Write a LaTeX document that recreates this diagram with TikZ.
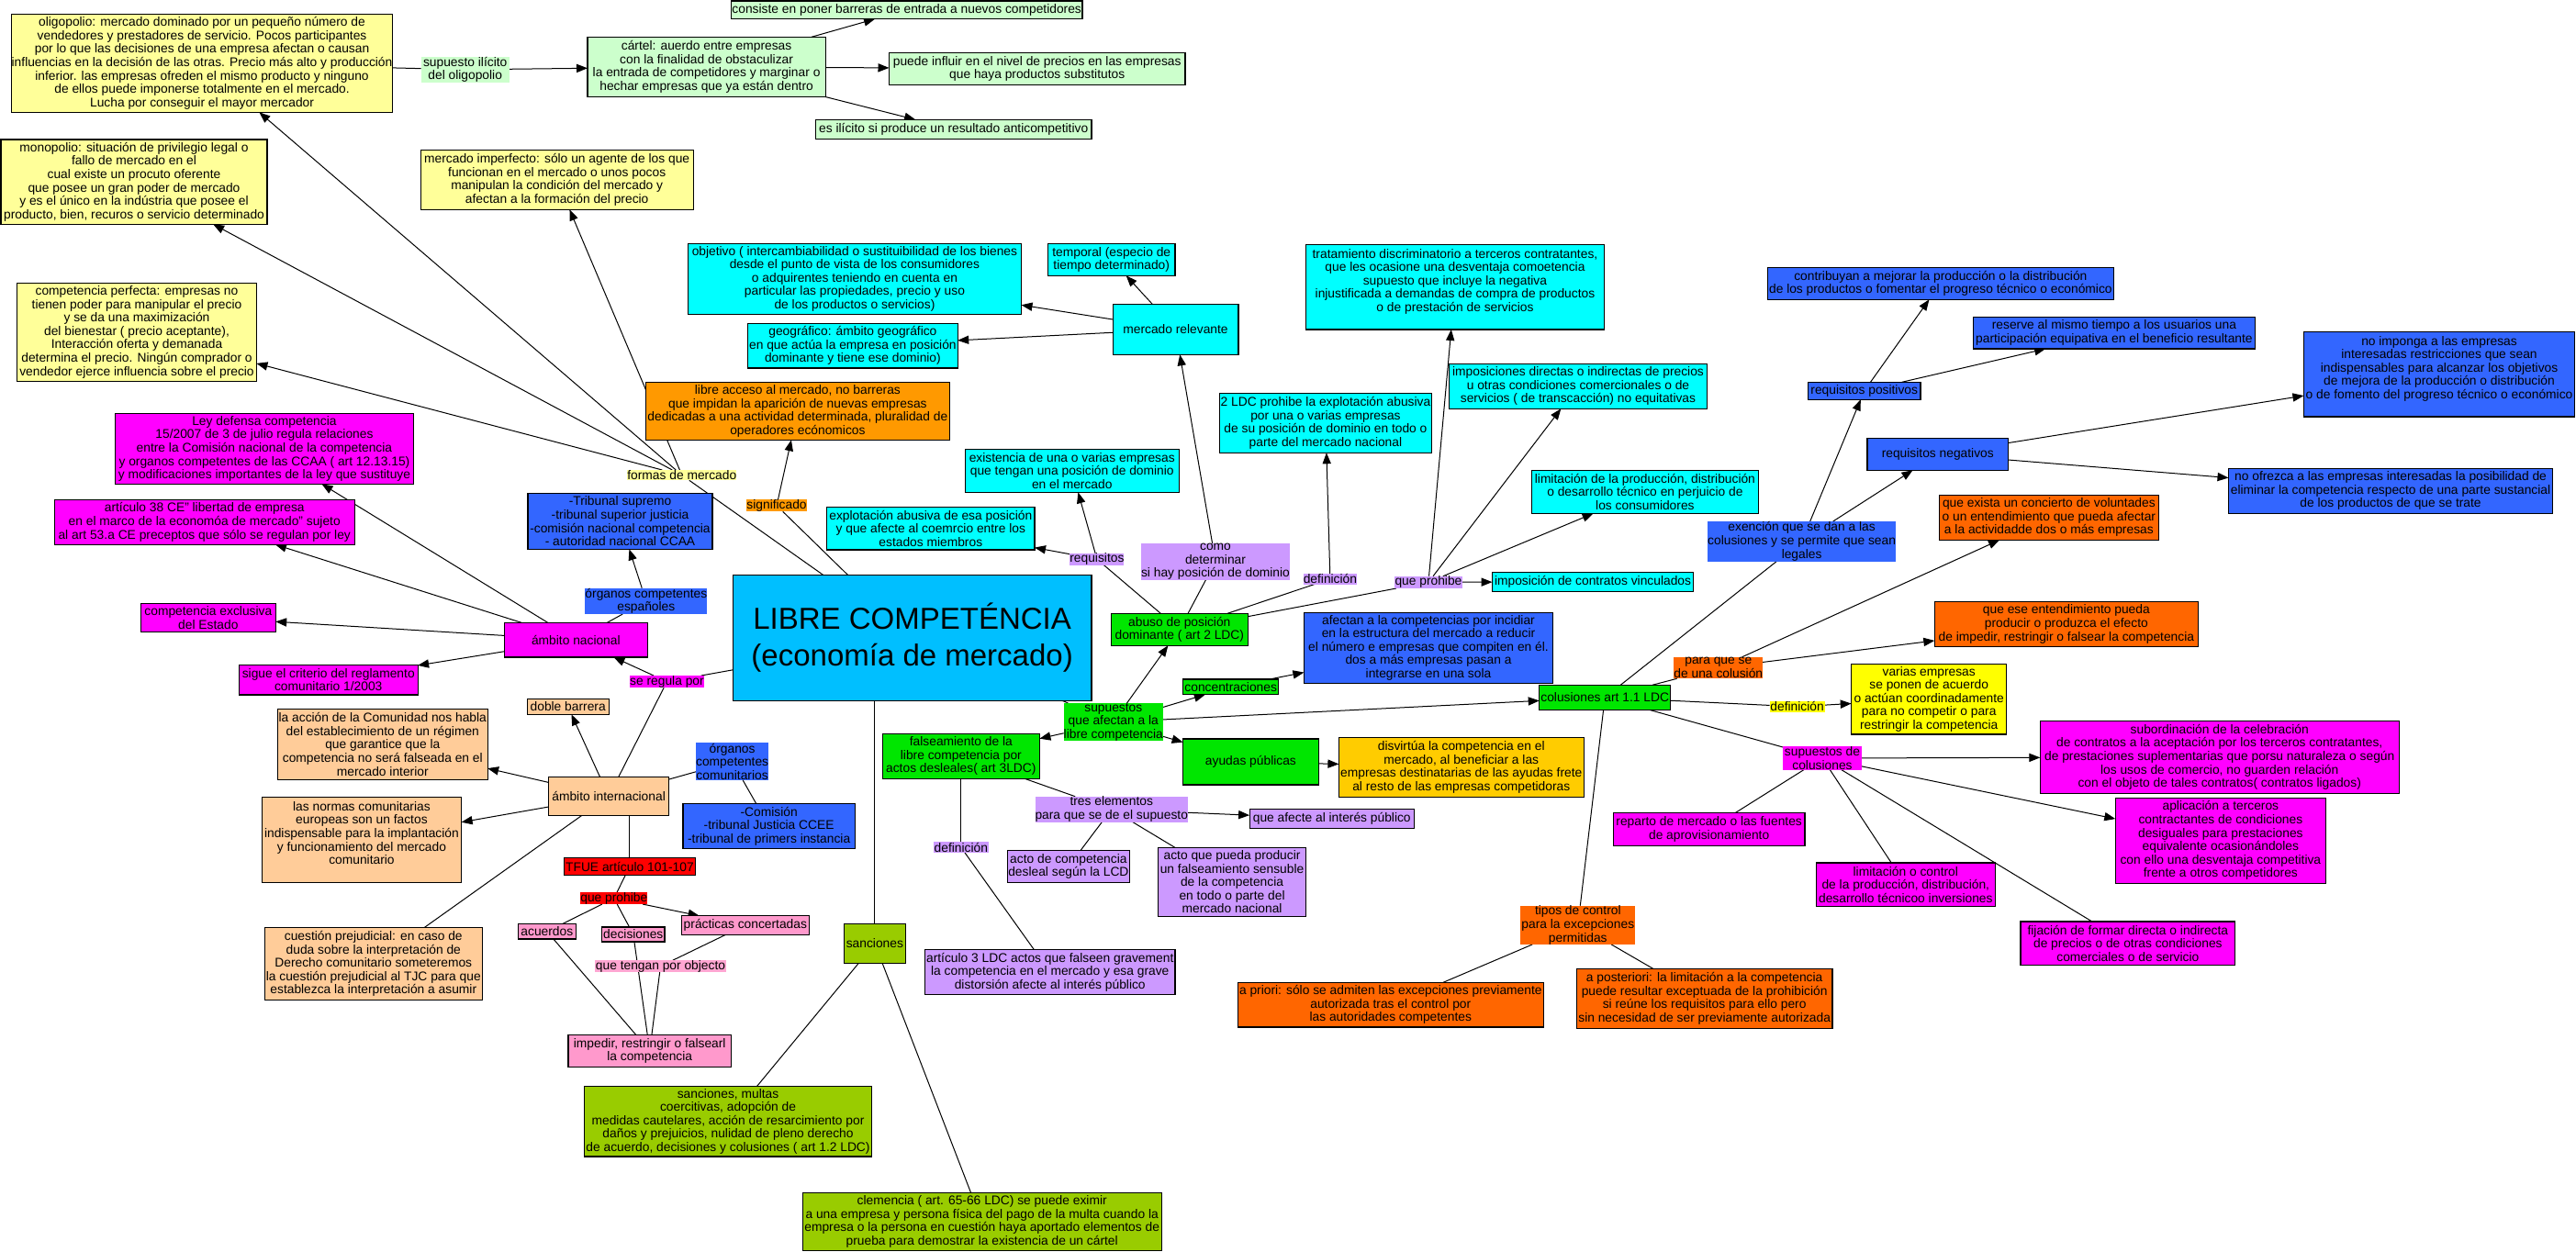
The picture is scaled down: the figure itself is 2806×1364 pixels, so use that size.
\documentclass[tikz,border=0pt]{standalone}
\usepackage{fontspec}
\setmainfont{Liberation Sans}
\usetikzlibrary{arrows.meta}
\pgfdeclarelayer{background}
\pgfsetlayers{background,main}
\definecolor{cYel}{HTML}{FFFF99}
\definecolor{cLG}{HTML}{CCFFCC}
\definecolor{cCyan}{HTML}{00FFFF}
\definecolor{cBlue}{HTML}{3366FF}
\definecolor{cOr}{HTML}{FF9900}
\definecolor{cMag}{HTML}{FF00FF}
\definecolor{cPeach}{HTML}{FFCC99}
\definecolor{cLav}{HTML}{CC99FF}
\definecolor{cGreen}{HTML}{00E600}
\definecolor{cRed}{HTML}{FF0000}
\definecolor{cPink}{HTML}{FF99CC}
\definecolor{cPinkL}{HTML}{FFA6D2}
\definecolor{cOlive}{HTML}{99CC00}
\definecolor{cAmber}{HTML}{FFCC00}
\definecolor{cOR}{HTML}{FF6600}
\definecolor{cYellow}{HTML}{FFFF00}
\definecolor{cLib}{HTML}{00BFFF}
\newcommand\fs{\fontsize{6.9}{7.3}\selectfont}
\tikzset{
 base/.style={inner sep=0pt, outer sep=0pt, align=center, font=\fs, text=black, anchor=center},
 box/.style={base, draw=black, line width=0.6pt},
 lab/.style={base},
 R/.style args={#1,#2,#3,#4}{at={({(#1+#3)/2},{(#2+#4)/2})}, minimum width={(#3-#1)*0.5pt}, minimum height={(#4-#2)*0.5pt}},
 ln/.style={draw=black, line width=0.5pt},
 ar/.style={ln, -{Triangle[length=6pt,width=4.6pt]}},
}
\begin{document}
\begin{tikzpicture}[x=0.5pt,y=-0.5pt]
\useasboundingbox (0,0) rectangle (2806,1364);
% ---------- nodes ----------
\node[box, fill=cYel, R={12.7,15.3,427.4,122.3}] (olig) {oligopolio: mercado dominado por un pequeño número de\\ vendedores y prestadores de servicio. Pocos participantes\\ por lo que las decisiones de una empresa afectan o causan\\ influencias en la decisión de las otras. Precio más alto y producción\\ inferior. las empresas ofreden el mismo producto y ninguno\\ de ellos puede imponerse totalmente en el mercado.\\ Lucha por conseguir el mayor mercador};
\node[lab, fill=cLG, R={458.7,61.7,554.7,90}] (supil) {supuesto ilícito\\ del oligopolio};
\node[box, fill=cLG, R={640,40.3,899.2,105.3}] (cartel) {cártel: auerdo entre empresas\\ con la finalidad de obstaculizar\\ la entrada de competidores y marginar o\\ hechar empresas que ya están dentro};
\node[box, fill=cLG, R={796.4,1,1179,20.7}] (consiste) {consiste en poner barreras de entrada a nuevos competidores};
\node[box, fill=cLG, R={968.5,57.3,1290.9,92.3}] (puede) {puede influir en el nivel de precios en las empresas\\ que haya productos substitutos};
\node[box, fill=cLG, R={888.4,130.3,1189,151.3}] (esilic) {es ilícito si produce un resultado anticompetitivo};
\node[box, fill=cYel, R={1,152,291,244.3}] (monop) {monopolio: situación de privilegio legal o\\ fallo de mercado en el\\ cual existe un procuto oferente\\ que posee un gran poder de mercado\\ y es el único en la indústria que posee el\\ producto, bien, recuros o servicio determinado};
\node[box, fill=cYel, R={458.2,163.3,755.2,228.3}] (merimp) {mercado imperfecto: sólo un agente de los que\\ funcionan en el mercado o unos pocos\\ manipulan la condición del mercado y\\ afectan a la formación del precio};
\node[box, fill=cYel, R={18.6,308.3,279.4,415.3}] (compperf) {competencia perfecta: empresas no\\ tienen poder para manipular el precio\\ y se da una maximización\\ del bienestar ( precio aceptante),\\ Interacción oferta y demanada\\ determina el precio. Ningún comprador o\\ vendedor ejerce influencia sobre el precio};
\node[box, fill=cCyan, R={749.4,265.3,1112.5,342.3}] (objetivo) {objetivo ( intercambiabilidad o sustituibilidad de los bienes\\ desde el punto de vista de los consumidores\\ o adquirentes teniendo en cuenta en\\ particular las propiedades, precio y uso\\ de los productos o servicios)};
\node[box, fill=cCyan, R={1141.5,265.7,1280,300.3}] (temporal) {temporal (especio de\\ tiempo determinado)};
\node[box, fill=cCyan, R={1212.1,331.3,1348.9,386.3}] (merrel) {mercado relevante};
\node[box, fill=cCyan, R={814.6,352.3,1043.2,401}] (geo) {geográfico: ámbito geográfico\\ en que actúa la empresa en posición\\ dominante y tiene ese dominio)};
\node[box, fill=cOr, R={703.6,416.3,1034.2,479.3}] (libacc) {libre acceso al mercado, no barreras\\ que impidan la aparición de nuevas empresas\\ dedicadas a una actividad determinada, pluralidad de\\ operadores ecónomicos};
\node[box, fill=cCyan, R={1328.5,428.3,1559.4,493.3}] (dosldc) {2 LDC prohibe la explotación abusiva\\ por una o varias empresas\\ de su posición de dominio en todo o\\ parte del mercado nacional};
\node[box, fill=cCyan, R={1422.6,266.3,1747.3,359}] (trat) {tratamiento discriminatorio a terceros contratantes,\\ que les ocasione una desventaja comoetencia\\ supuesto que incluye la negativa\\ injustificada a demandas de compra de productos\\ o de prestación de servicios\\ \mbox{}};
\node[box, fill=cCyan, R={1578.4,396.3,1859.6,445.3}] (impos) {imposiciones directas o indirectas de precios\\ u otras condiciones comercionales o de\\ servicios ( de transcacción) no equitativas};
\node[box, fill=cBlue, R={1925.2,291.3,2302.5,326.3}] (contrib) {contribuyan a mejorar la producción o la distribución\\ de los productos o fomentar el progreso técnico o económico};
\node[box, fill=cBlue, R={1969.6,416.3,2091.9,435.3}] (reqpos) {requisitos positivos};
\node[box, fill=cBlue, R={2149.4,345.3,2456.4,380}] (reserve) {reserve al mismo tiempo a los usuarios una\\ participación equipativa en el beneficio resultante};
\node[box, fill=cBlue, R={2509.4,361.3,2804.6,454}] (noimp) {no imponga a las empresas\\ interesadas restricciones que sean\\ indispensables para alcanzar los objetivos\\ de mejora de la producción o distribución\\ o de fomento del progreso técnico o económico\\ \mbox{}};
\node[box, fill=cBlue, R={2034,477.3,2187.5,512.3}] (reqneg) {requisitos negativos};
\node[box, fill=cBlue, R={2427.5,510.3,2780.6,559.3}] (noofr) {no ofrezca a las empresas interesadas la posibilidad de\\ eliminar la competencia respecto de una parte sustancial\\ de los productos de que se trate};
\node[box, fill=cOR, R={2112.3,539.3,2351.4,588.3}] (quexist) {que exista un concierto de voluntades\\ o un entendimiento que pueda afectar\\ a la actividadde dos o más empresas};
\node[box, fill=cOR, R={2107.3,655.7,2394.4,704.3}] (queese) {que ese entendimiento pueda\\ producir o produzca el efecto\\ de impedir, restringir o falsear la competencia};
\node[box, fill=cYellow, R={2016.7,723.3,2185.7,800}] (varias) {varias empresas\\ se ponen de acuerdo\\ o actúan coordinadamente\\ para no competir o para\\ restringir la competencia};
\node[box, fill=cMag, R={2222.3,785.3,2613.1,864.3}] (subord) {subordinación de la celebración\\ de contratos a la aceptación por los terceros contratantes,\\ de prestaciones suplementarias que porsu naturaleza o según\\ los usos de comercio, no guarden relación\\ con el objeto de tales contratos( contratos ligados)};
\node[box, fill=cMag, R={2304.3,869.3,2533.4,962.3}] (aplic) {aplicación a terceros\\ contractantes de condiciones\\ desiguales para prestaciones\\ equivalente ocasionándoles\\ con ello una desventaja competitiva\\ frente a otros competidores};
\node[box, fill=cMag, R={1978.2,940,2173.4,987.3}] (limcon) {limitación o control\\ de la producción, distribución,\\ desarrollo técnicoo inversiones};
\node[box, fill=cMag, R={2201,1004,2434.7,1051.3}] (fijac) {fijación de formar directa o indirecta\\ de precios o de otras condiciones\\ comerciales o de servicio};
\node[box, fill=cMag, R={1757.3,885.7,1966,921.3}] (reparto) {reparto de mercado o las fuentes\\ de aprovisionamiento};
\node[lab, fill=cMag, R={1942,813.3,2028,838.7}] (supcol) {supuestos de\\ colusiones};
\node[box, fill=cGreen, R={1676.7,746.3,1819.7,773.3}] (colus) {colusiones art 1.1 LDC};
\node[lab, fill=cOR, R={1823.8,715.7,1919.8,739.3}] (paraque) {para que se\\ de una colusión};
\node[lab, fill=cYellow, R={1927.5,764,1987.7,775.7}] (defy) {definición};
\node[lab, fill=cBlue, R={1861.4,568,2063.8,611.7}] (exen) {exención que se dan a las\\ colusiones y se permite que sean\\ legales};
\node[box, fill=cCyan, R={1668.5,512.3,1915.3,559.3}] (limprod) {limitación de la producción, distribución\\ o desarrollo técnico en perjuicio de\\ los consumidores};
\node[box, fill=cCyan, R={1625.5,623.3,1844.6,644.3}] (impcont) {imposición de contratos vinculados};
\node[lab, fill=cLav, R={1519,627.7,1592.9,641}] (queproh) {que prohibe};
\node[lab, fill=cLav, R={1419.5,625,1478.3,636.7}] (defl) {definición};
\node[box, fill=cBlue, R={1420.4,667.3,1691.6,744.3}] (afectan) {afectan a la competencias por incidiar\\ en la estructura del mercado a reducir\\ el número e empresas que compiten en él.\\ dos a más empresas pasan a\\ integrarse en una sola};
\node[box, fill=cAmber, R={1458.4,803.3,1725.1,868.3}] (disv) {disvirtúa la competencia en el\\ mercado, al beneficiar a las\\ empresas destinatarias de las ayudas frete\\ al resto de las empresas competidoras};
\node[box, fill=cGreen, R={1288.6,805,1436.2,855}] (ayudas) {ayudas públicas};
\node[box, fill=cLav, R={1361.1,881.7,1540.4,902.3}] (queafe) {que afecte al interés público};
\node[lab, fill=cOR, R={1656.3,986.7,1781.3,1029}] (tipos) {tipos de control\\ para la excepciones\\ permitidas};
\node[box, fill=cOR, R={1348.4,1070.3,1681.2,1119}] (apriori) {a priori: sólo se admiten las excepciones previamente\\ autorizada tras el control por\\ las autoridades competentes};
\node[box, fill=cOR, R={1717.4,1055.3,1995.9,1120.3}] (apost) {a posteriori: la limitación a la competencia\\ puede resultar exceptuada de la prohibición\\ si reúne los requisitos para ello pero\\ sin necesidad de ser previamente autorizada};
\node[box, fill=cLib, R={798.3,626.7,1189,763.3}, font=\fontsize{16.5}{20}\selectfont] (libre) {LIBRE COMPETÉNCIA\\ (economía de mercado)};
\node[lab, fill=cYel, R={683.7,512,801.9,523.3}] (formas) {formas de mercado};
\node[lab, fill=cOr, R={813.2,544.3,878.9,557.3}] (signif) {significado};
\node[box, fill=cBlue, R={575,537.3,776,598.3}] (trib) {-Tribunal supremo\\ -tribunal superior justicia\\ -comisión nacional competencia\\ - autoridad nacional CCAA};
\node[lab, fill=cBlue, R={638.4,640.7,769.3,669}] (orgesp) {órganos competentes\\ españoles};
\node[box, fill=cMag, R={549.2,678.3,705.5,716}] (ambnac) {ámbito nacional};
\node[lab, fill=cMag, R={686,736,767,749.3}] (regula) {se regula por};
\node[box, fill=cCyan, R={1051.4,489.3,1284.1,536.3}] (existencia) {existencia de una o varias empresas\\ que tengan una posición de dominio\\ en el mercado};
\node[box, fill=cCyan, R={900.6,552.3,1127,599}] (explot) {explotación abusiva de esa posición\\ y que afecte al coemrcio entre los\\ estados miembros};
\node[lab, fill=cLav, R={1165.5,602.7,1224.3,615.7}] (requis) {requisitos};
\node[lab, fill=cLav, R={1243.4,592,1404.6,631.7}] (como) {como\\ determinar\\ si hay posición de dominio};
\node[box, fill=cGreen, R={1210.3,668.3,1359.3,703.3}] (abuso) {abuso de posición\\ dominante ( art 2 LDC)};
\node[box, fill=cGreen, R={1288.6,740,1392.8,756.7}] (concen) {concentraciones};
\node[lab, fill=cGreen, R={1159.6,766,1266,807.3}] (supaf) {supuestos\\ que afectan a la\\ libre competencia};
\node[box, fill=cGreen, R={961.3,799.3,1132.4,848.3}] (fals) {falseamiento de la\\ libre competencia por\\ actos desleales( art 3LDC)};
\node[lab, fill=cLav, R={1128.3,867.7,1293.2,895.7}] (tres) {tres elementos\\ para que se de el supuesto};
\node[lab, fill=cBlue, R={758,809.3,837.2,850}] (orgcom) {órganos\\ competentes\\ comunitarios};
\node[box, fill=cBlue, R={743.9,875.3,931.4,924.7}] (comis) {-Comisión\\ -tribunal Justicia CCEE\\ -tribunal de primers instancia};
\node[box, fill=cMag, R={125.4,450.5,450.5,527.3}] (ley) {Ley defensa competencia\\ 15/2007 de 3 de julio regula relaciones\\ entre la Comisión nacional de la competencia\\ y organos competentes de las CCAA ( art 12.13.15)\\ y modificaciones importantes de la ley que sustituye};
\node[box, fill=cMag, R={59.3,544.3,386.2,593.3}] (art38) {artículo 38 CE" libertad de empresa\\ en el marco de la economóa de mercado" sujeto\\ al art 53.a CE preceptos que sólo se regulan por ley};
\node[box, fill=cMag, R={153.5,657.3,300.2,688.3}] (compexc) {competencia exclusiva\\ del Estado};
\node[box, fill=cMag, R={260.4,724.3,455.1,757}] (sigue) {sigue el criterio del reglamento\\ comunitario 1/2003};
\node[box, fill=cPeach, R={574.1,761.7,663.3,778.3}] (doble) {doble barrera};
\node[box, fill=cPeach, R={302.5,772.3,531.1,849.3}] (accion) {la acción de la Comunidad nos habla\\ del establecimiento de un régimen\\ que garantice que la\\ competencia no será falseada en el\\ mercado interior};
\node[box, fill=cPeach, R={597.7,846.7,728.5,888.3}] (ambint) {ámbito internacional};
\node[box, fill=cPeach, R={285.3,868.3,502.6,961.3}] (normas) {las normas comunitarias\\ europeas son un factos\\ indispensable para la implantación\\ y funcionamiento del mercado\\ comunitario\\ \mbox{}};
\node[box, fill=cPeach, R={288.4,1010.7,525.2,1089.3}] (cuest) {cuestión prejudicial: en caso de\\ duda sobre la interpretación de\\ Derecho comunitario someteremos\\ la cuestión prejudicial al TJC para que\\ establezca la interpretación a asumir};
\node[box, fill=cRed, R={614.4,934.7,757.5,953.3}] (tfue) {TFUE artículo 101-107};
\node[lab, fill=cRed, R={632.6,972.3,705,985}] (queprohr) {que prohibe};
\node[box, fill=cPink, R={564.6,1006.7,627.1,1023}] (acuerdos) {acuerdos};
\node[box, fill=cPink, R={655.6,1010,724,1026}] (decis) {decisiones};
\node[box, fill=cPink, R={742.6,997.7,881.1,1018.3}] (pract) {prácticas concertadas};
\node[lab, fill=cPinkL, R={648.4,1046.3,790.6,1059}] (quetengan) {que tengan por objecto};
\node[box, fill=cPink, R={619,1127.3,796.4,1162.3}] (impedir) {impedir, restringir o falsearl\\ la competencia};
\node[box, fill=cOlive, R={636.6,1183.3,949.5,1260}] (sancm) {sanciones, multas\\ coercitivas, adopción de\\ medidas cautelares, acción de resarcimiento por\\ daños y prejuicios, nulidad de pleno derecho\\ de acuerdo, decisiones y colusiones ( art 1.2 LDC)};
\node[box, fill=cOlive, R={919.6,1006.7,986.2,1049.3}] (sanc) {sanciones};
\node[box, fill=cOlive, R={874.3,1299.7,1265.1,1362.3}] (clem) {clemencia ( art. 65-66 LDC) se puede eximir\\ a una empresa y persona física del pago de la multa cuando la\\ empresa o la persona en cuestión haya aportado elementos de\\ prueba para demostrar la existencia de un cártel};
\node[lab, fill=cLav, R={1017,917.3,1076.7,929}] (defl2) {definición};
\node[box, fill=cLav, R={1097.6,926.7,1230.2,961.3}] (actodes) {acto de competencia\\ desleal según la LCD};
\node[box, fill=cLav, R={1261.5,923.3,1422.6,998.3}] (actoque) {acto que pueda producir\\ un falseamiento sensuble\\ de la competencia\\ en todo o parte del\\ mercado nacional};
\node[box, fill=cLav, R={1007.5,1034.7,1280,1083.3}] (art3) {artículo 3 LDC actos que falseen gravement\\ la competencia en el mercado y esa grave\\ distorsión afecte al interés público};
% ---------- connectors ----------
\begin{pgfonlayer}{background}
\fill[white] (0,0) rectangle (2806,1364);
\draw[ln] (olig) -- (supil);
\draw[ar] (supil) -- (cartel);
\draw[ar] (cartel) -- (consiste);
\draw[ar] (cartel) -- (puede);
\draw[ar] (cartel) -- (esilic);
\draw[ln] (libre) -- (formas);
\draw[ar] (formas) -- (olig);
\draw[ar] (formas) -- (monop);
\draw[ar] (formas) -- (compperf);
\draw[ar] (formas) -- (merimp);
\draw[ln] (libre) -- (signif);
\draw[ar] (signif) -- (libacc);
\draw[ln] (libre) -- (regula);
\draw[ar] (regula) -- (ambnac);
\draw[ln] (regula) -- (ambint);
\draw[ln] (ambnac) -- (orgesp);
\draw[ar] (orgesp) -- (trib);
\draw[ar] (ambnac) -- (ley);
\draw[ar] (ambnac) -- (art38);
\draw[ar] (ambnac) -- (compexc);
\draw[ar] (ambnac) -- (sigue);
\draw[ar] (ambint) -- (doble);
\draw[ar] (ambint) -- (accion);
\draw[ar] (ambint) -- (normas);
\draw[ln] (ambint) -- (cuest);
\draw[ln] (tfue.north |- ambint.south) -- (tfue.north);
\draw[ln] (ambint) -- (orgcom);
\draw[ln] (orgcom) -- (comis);
\draw[ln] (tfue) -- (queprohr);
\draw[ln] (queprohr) -- (acuerdos);
\draw[ln] (queprohr) -- (decis);
\draw[ar] (queprohr) -- (pract);
\draw[ln] (acuerdos) -- (impedir);
\draw[ln] (decis) -- (impedir);
\draw[ln] (pract) -- (quetengan);
\draw[ln] (quetengan) -- (impedir);
\draw[ln] (sanc.north |- libre.south) -- (sanc.north);
\draw[ln] (sanc) -- (sancm);
\draw[ln] (sanc) -- (clem);
\draw[ln] (libre) -- (supaf);
\draw[ar] (supaf) -- (abuso);
\draw[ar] (supaf) -- (concen);
\draw[ar] (supaf) -- (colus);
\draw[ar] (supaf) -- (ayudas);
\draw[ar] (supaf) -- (fals);
\draw[ar] (concen) -- (afectan);
\draw[ar] (ayudas) -- (disv);
\draw[ln] (fals) -- (defl2);
\draw[ln] (defl2) -- (art3);
\draw[ln] (fals) -- (tres);
\draw[ar] (tres) -- (queafe);
\draw[ln] (tres) -- (actodes);
\draw[ln] (tres) -- (actoque);
\draw[ln] (abuso) -- (requis);
\draw[ar] (requis) -- (existencia);
\draw[ar] (requis) -- (explot);
\draw[ln] (abuso) -- (como);
\draw[ar] (como) -- (merrel);
\draw[ar] (merrel) -- (objetivo);
\draw[ar] (merrel) -- (geo);
\draw[ar] (merrel) -- (temporal);
\draw[ln] (abuso) -- (defl);
\draw[ar] (defl) -- (dosldc);
\draw[ln] (abuso) -- (queproh);
\draw[ar] (queproh) -- (trat);
\draw[ar] (queproh) -- (impos);
\draw[ar] (queproh) -- (limprod);
\draw[ar] (queproh) -- (impcont);
\draw[ln] (colus) -- (exen);
\draw[ar] (exen) -- (reqpos);
\draw[ar] (exen) -- (reqneg);
\draw[ar] (reqpos) -- (contrib);
\draw[ar] (reqpos) -- (reserve);
\draw[ar] (reqneg) -- (noimp);
\draw[ar] (reqneg) -- (noofr);
\draw[ln] (colus) -- (paraque);
\draw[ar] (paraque) -- (quexist);
\draw[ar] (paraque) -- (queese);
\draw[ln] (colus) -- (defy);
\draw[ar] (defy) -- (varias);
\draw[ln] (colus) -- (supcol);
\draw[ar] (supcol) -- (subord);
\draw[ar] (supcol) -- (aplic);
\draw[ln] (supcol) -- (reparto);
\draw[ln] (supcol) -- (limcon);
\draw[ln] (supcol) -- (fijac);
\draw[ln] (colus) -- (tipos);
\draw[ln] (tipos) -- (apriori);
\draw[ln] (tipos) -- (apost);
\end{pgfonlayer}
\end{tikzpicture}
\end{document}
